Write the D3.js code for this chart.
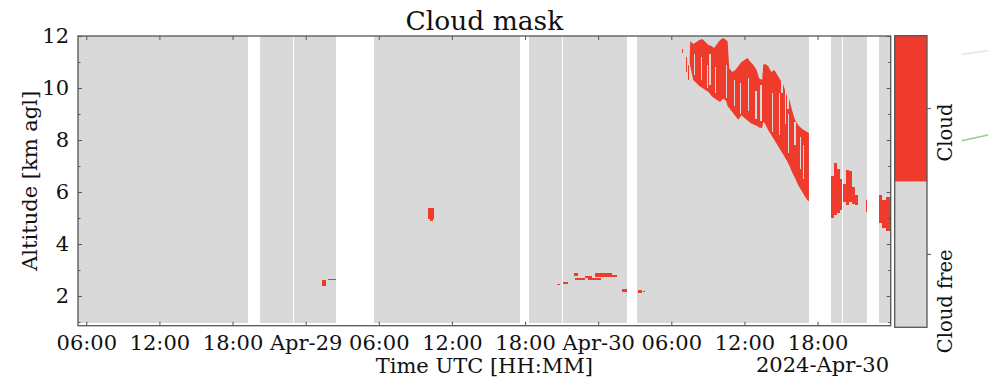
<!DOCTYPE html>
<html><head><meta charset="utf-8">
<script src="https://cdn.jsdelivr.net/npm/d3@7"></script>
<style>
html,body{margin:0;padding:0;background:#fff;}
svg{display:block;}
text{font-family:"DejaVu Serif",serif;fill:#111;}
</style></head><body>
<script>
// Times are hours since 2024-04-28 00:00 UTC, altitudes in km above ground
const baseTime = Date.UTC(2024, 3, 28);
const timeRange = [5.32, 72.0];
const altRange = [0.86, 12];
const gateRange = [0.97, 12];

// periods with valid retrievals [start, end]
const segments = [
  [5.32, 19.23], [20.25, 22.96], [23.04, 26.51], [29.6, 41.6],
  [42.34, 45.06], [45.14, 50.38], [51.2, 65.29], [67.12, 68.0],
  [68.08, 70.07], [71.0, 72.0]
];

// descending cirrus band on Apr-30: time, cloud top, cloud base
const bandTime = [55.5, 55.55, 55.8, 56.05, 56.3, 56.55, 56.8, 57.05, 57.3, 57.5, 57.75,
  58.0, 58.25, 58.5, 58.62, 58.75, 59.0, 59.25, 59.5, 59.75, 60.0, 60.25, 60.5, 60.75,
  61.0, 61.2, 61.45, 61.55, 61.7, 61.95, 62.2, 62.45, 62.7, 62.95, 63.2, 63.45, 63.7,
  63.9, 64.15, 64.4, 64.65, 64.9, 65.15, 65.29];
const bandTop = [11.0, 11.81, 11.69, 11.77, 11.85, 11.88, 11.77, 11.65, 11.62, 11.54, 11.69,
  11.85, 11.92, 11.85, 11.8, 10.77, 10.62, 10.69, 10.85, 11.0, 11.08, 11.15, 11.0, 10.88,
  10.69, 10.38, 10.31, 10.9, 10.92, 10.85, 10.62, 10.69, 10.5, 10.31, 10.12, 9.73, 9.54,
  9.15, 8.77, 8.58, 8.46, 8.38, 8.31, 8.27];
const bandBase = [11.0, 10.85, 10.31, 10.19, 10.08, 10.0, 9.92, 9.85, 9.69, 9.62, 9.54,
  9.46, 9.6, 9.5, 9.3, 9.23, 9.08, 8.92, 8.78, 8.95, 8.85, 8.75, 8.65, 8.6,
  8.55, 8.48, 8.46, 8.7, 8.62, 8.38, 8.19, 8.0, 7.81, 7.62, 7.42, 7.23, 7.0,
  6.77, 6.54, 6.27, 6.08, 5.88, 5.69, 5.65];

// cloud-free pockets inside the band [start, end, base, top]
const bandGaps = [
  [55.85, 55.95, 10.5, 11.3], [56.45, 56.55, 10.3, 11.2], [56.9, 57.0, 10.0, 10.9],
  [57.1, 57.22, 10.1, 11.3], [57.55, 57.65, 9.8, 10.8], [58.5, 58.6, 9.6, 10.9],
  [59.15, 59.25, 9.3, 10.3], [59.6, 59.7, 9.0, 10.2], [60.3, 60.38, 9.1, 10.4],
  [60.9, 61.0, 8.8, 9.9], [61.3, 61.45, 8.75, 10.1], [62.3, 62.38, 8.3, 9.8],
  [62.85, 62.95, 8.2, 9.8], [63.0, 63.2, 9.8, 10.4], [63.3, 63.42, 8.6, 9.9],
  [63.5, 63.65, 9.2, 9.8], [63.6, 63.68, 7.5, 9.0], [63.95, 64.02, 7.2, 8.6],
  [64.05, 64.2, 7.8, 8.7], [64.55, 64.65, 6.9, 8.1], [64.8, 64.88, 6.5, 7.8]
];

// other cloudy cells [start, end, base, top]
const clouds = [
  [25.3, 25.65, 2.38, 2.6], [25.85, 26.45, 2.6, 2.64],
  [34.05, 34.55, 4.97, 5.38], [34.18, 34.42, 4.88, 5.0],
  [44.6, 44.9, 2.43, 2.47], [45.13, 45.54, 2.47, 2.54],
  [46.03, 46.36, 2.76, 2.87], [46.1, 46.9, 2.6, 2.7], [46.93, 47.5, 2.7, 2.79],
  [47.2, 48.2, 2.6, 2.7], [47.75, 49.15, 2.74, 2.87], [49.15, 49.56, 2.75, 2.8],
  [49.95, 50.35, 2.15, 2.27], [51.25, 51.6, 2.12, 2.25], [51.65, 51.85, 2.15, 2.2],
  [54.85, 54.95, 11.35, 11.5], [55.2, 55.3, 10.6, 11.2], [55.35, 55.45, 10.3, 10.9],
  [67.12, 67.35, 5.0, 6.6], [67.35, 67.6, 5.1, 7.1], [67.6, 67.85, 5.2, 6.9],
  [67.85, 68.0, 5.3, 6.5],
  [68.1, 68.3, 5.6, 6.3], [68.3, 68.55, 5.5, 6.85], [68.55, 68.8, 5.6, 6.8],
  [68.8, 69.05, 5.55, 6.2], [69.05, 69.35, 5.5, 5.9], [69.95, 70.02, 5.25, 5.7],
  [71.0, 71.3, 4.8, 5.9], [71.3, 71.6, 4.6, 5.7], [71.6, 72.0, 4.5, 5.8]
];

const classLabels = ["Cloud free", "Cloud"];
const classColors = ["#d9d9d9", "#ef3b2c"];
const timeTicks = [6, 12, 18, 24, 30, 36, 42, 48, 54, 60, 66];
const altMajor = [2, 4, 6, 8, 10, 12];
const altMinor = [1, 3, 5, 7, 9, 11];

const W = 988, H = 379;
const m = {left: 78, right: 890.7, top: 36, bottom: 325.7};
const cb = {left: 894.7, right: 927, top: 35.7, bottom: 327.3};
const axisColor = "#555";

const toDate = h => new Date(baseTime + h * 3600e3);

const svg = d3.select("body").append("svg").attr("width", W).attr("height", H);

const x = d3.scaleUtc().domain(timeRange.map(toDate)).range([m.left, m.right]);
const y = d3.scaleLinear().domain(altRange).range([m.bottom, m.top]);

const plot = svg.append("g");

const cell = (sel, data, color) => sel.selectAll(null).data(data).join("rect")
  .attr("x", d => x(toDate(d[0])))
  .attr("width", d => x(toDate(d[1])) - x(toDate(d[0])))
  .attr("y", d => y(d[3]))
  .attr("height", d => y(d[2]) - y(d[3]))
  .attr("fill", color)
  .attr("shape-rendering", "crispEdges");

// background of valid profiles
cell(plot.append("g"), segments.map(s => [s[0], s[1], gateRange[0], gateRange[1]]), classColors[0]);

// cirrus band
const band = bandTime.map((t, i) => ({t, top: bandTop[i], base: bandBase[i]}));
plot.append("path").datum(band)
  .attr("d", d3.area().x(d => x(toDate(d.t))).y0(d => y(d.base)).y1(d => y(d.top)))
  .attr("fill", classColors[1]);
cell(plot.append("g"), bandGaps, classColors[0]);

// remaining cloud cells
cell(plot.append("g"), clouds, classColors[1]);

// axes with inward ticks on all four sides
const fmt = d => (d.getUTCHours() === 0 ? d3.utcFormat("%b-%d")(d) : d3.utcFormat("%H:%M")(d));
const tickDates = timeTicks.map(toDate);

const xb = d3.axisBottom(x).tickValues(tickDates).tickFormat(fmt).tickSizeInner(-4).tickSizeOuter(0).tickPadding(9);
const xt = d3.axisTop(x).tickValues(tickDates).tickFormat("").tickSizeInner(-4).tickSizeOuter(0);
const yl = d3.axisLeft(y).tickValues(altMajor).tickFormat(d3.format("d")).tickSizeInner(-4).tickSizeOuter(0).tickPadding(9);
const yr = d3.axisRight(y).tickValues(altMajor).tickFormat("").tickSizeInner(-4).tickSizeOuter(0);
const ylm = d3.axisLeft(y).tickValues(altMinor).tickFormat("").tickSizeInner(-2.5).tickSizeOuter(0);
const yrm = d3.axisRight(y).tickValues(altMinor).tickFormat("").tickSizeInner(-2.5).tickSizeOuter(0);

function style(g) {
  g.select(".domain").remove();
  g.selectAll(".tick line").attr("stroke", axisColor).attr("stroke-width", 1);
  g.selectAll(".tick text").attr("fill", "#111").style("font-family", "DejaVu Serif").style("font-size", "21px");
}
svg.append("g").attr("transform", `translate(0,${m.bottom})`).call(xb).call(style);
svg.append("g").attr("transform", `translate(0,${m.top})`).call(xt).call(style);
svg.append("g").attr("transform", `translate(${m.left},0)`).call(yl).call(style);
svg.append("g").attr("transform", `translate(${m.right},0)`).call(yr).call(style);
svg.append("g").attr("transform", `translate(${m.left},0)`).call(ylm).call(style);
svg.append("g").attr("transform", `translate(${m.right},0)`).call(yrm).call(style);

svg.append("rect")
  .attr("x", m.left).attr("y", m.top)
  .attr("width", m.right - m.left).attr("height", m.bottom - m.top)
  .attr("fill", "none").attr("stroke", axisColor).attr("stroke-width", 1.3);

// titles
svg.append("text").attr("x", (m.left + m.right) / 2).attr("y", 30)
  .attr("text-anchor", "middle").style("font-size", "26.5px").text("Cloud mask");
svg.append("text").attr("x", (m.left + m.right) / 2).attr("y", 373)
  .attr("text-anchor", "middle").style("font-size", "21px").text("Time UTC [HH:MM]");
svg.append("text").attr("x", 889).attr("y", 372)
  .attr("text-anchor", "end").style("font-size", "21px")
  .text(d3.utcFormat("%Y-%b-%d")(toDate(48)));
svg.append("text").attr("transform", `translate(37,${(m.top + m.bottom) / 2}) rotate(-90)`)
  .attr("text-anchor", "middle").style("font-size", "21px").text("Altitude [km agl]");

// colorbar
const c = d3.scaleBand().domain(classLabels).range([cb.bottom, cb.top]).padding(0);
svg.append("g").selectAll("rect").data(classLabels).join("rect")
  .attr("x", cb.left).attr("width", cb.right - cb.left)
  .attr("y", d => c(d)).attr("height", c.bandwidth())
  .attr("fill", (d, i) => classColors[i]);
svg.append("rect").attr("x", cb.left).attr("y", cb.top)
  .attr("width", cb.right - cb.left).attr("height", cb.bottom - cb.top)
  .attr("fill", "none").attr("stroke", axisColor).attr("stroke-width", 1.3);
const cbTicks = svg.append("g").selectAll("g").data(classLabels).join("g")
  .attr("transform", d => `translate(${cb.right},${c(d) + c.bandwidth() / 2})`);
cbTicks.append("line").attr("x2", 4).attr("stroke", axisColor);
cbTicks.append("text")
  .attr("transform", "translate(24.5,-5) rotate(-90)")
  .attr("text-anchor", "end").style("font-size", "19.5px")
  .text(d => d);

// faint traces at the right edge
const traces = [
  {pts: [[961.7, 54.3], [988, 50.7]], color: "#e2e9df"},
  {pts: [[961.7, 140.7], [988, 135]], color: "#9cc792"}
];
svg.append("g").selectAll("path").data(traces).join("path")
  .attr("d", d => d3.line()(d.pts)).attr("stroke", d => d.color)
  .attr("stroke-width", 1.5).attr("fill", "none");
</script>
</body></html>
